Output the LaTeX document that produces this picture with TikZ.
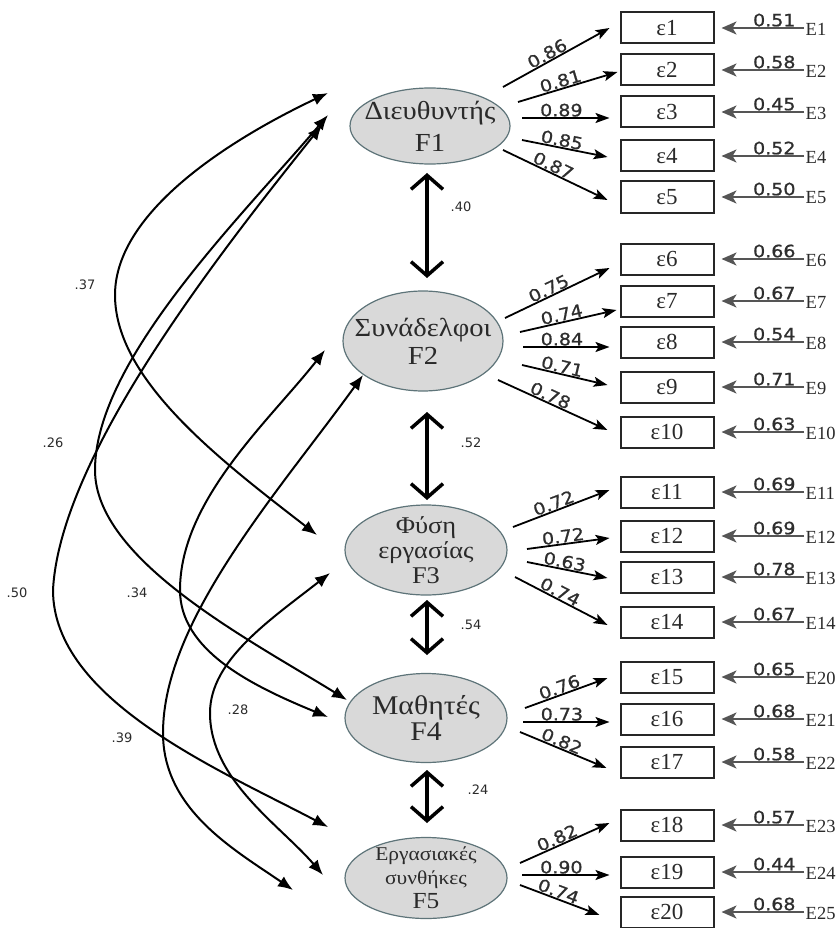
\documentclass[tikz,border=0pt]{standalone}
\usepackage{fontspec}
\setmainfont{Liberation Serif}
\newfontfamily\numfont{DejaVu Sans}
\newfontfamily\numsemi[FakeStretch=1.12,FakeBold=1]{DejaVu Sans}
\newfontfamily\grkwide[FakeStretch=1.1]{Liberation Serif}
\usetikzlibrary{arrows.meta,calc,shapes.geometric}
\definecolor{ellfill}{HTML}{D9D9D9}
\definecolor{elledge}{HTML}{5E7479}
\definecolor{errgrey}{HTML}{555555}
\definecolor{txtdark}{HTML}{2A2A2A}
\definecolor{numdark}{HTML}{2E2E2E}

\begin{document}
\begin{tikzpicture}[x=1pt,y=-1pt,
  latent/.style 2 args={ellipse, draw=elledge, fill=ellfill, line width=1.2pt,
    minimum width=#1, minimum height=#2, inner sep=0pt},
  lattext/.style={align=center, text=txtdark, inner sep=0pt},
  box/.style={draw=black!85, line width=2pt, minimum width=93pt, minimum height=31pt,
    inner sep=0pt, text=txtdark, font=\fontsize{23}{23}\selectfont},
  elabel/.style={anchor=west, inner sep=1.5pt, text=txtdark, font=\fontsize{18.5}{18.5}\selectfont},
  load/.style={line width=1.8pt, -{Stealth[length=14pt,width=10pt,inset=3pt]}},
  err/.style={draw=errgrey, line width=2pt, -{Stealth[length=15pt,width=13pt,inset=4pt]}},
  ld/.style={sloped, above, pos=0.45, inner sep=0.5pt, text=numdark, font=\numsemi\fontsize{17}{17}\selectfont},
  ev/.style={above, pos=0.36, inner sep=0.5pt, text=numdark, font=\numsemi\fontsize{17}{17}\selectfont},
  cov/.style={line width=2pt, {Latex[length=15pt,width=12pt]}-{Latex[length=15pt,width=12pt]}},
  dbl/.style={line width=3.5pt, {Straight Barb[length=14pt,width=32pt]}-{Straight Barb[length=14pt,width=32pt]}},
  corr/.style={inner sep=0pt, text=txtdark, font=\numfont\fontsize{13}{13}\selectfont}]

\useasboundingbox (0,0) rectangle (837,928);

% latent factors
\node[latent={160pt}{76pt}, label={[lattext, font=\grkwide\fontsize{26}{32}\selectfont]center:{Διευθυντής\\F1}}] (F1) at (430,126) {};
\node[latent={160pt}{100pt}, label={[lattext, font=\grkwide\fontsize{26}{28}\selectfont]center:{Συνάδελφοι\\F2}}] (F2) at (423,341) {};
\node[latent={162pt}{90pt}, label={[lattext, font=\grkwide\fontsize{24}{25}\selectfont]center:{Φύση\\εργασίας\\F3}}] (F3) at (426,550) {};
\node[latent={162pt}{89pt}, label={[lattext, font=\grkwide\fontsize{27}{26}\selectfont]center:{Μαθητές\\F4}}] (F4) at (426,718) {};
\node[latent={162pt}{81pt}, label={[lattext, font=\grkwide\fontsize{19.5}{24}\selectfont]center:{Εργασιακές\\συνθήκες\\{\fontsize{23}{23}\selectfont F5}}}] (F5) at (426,878) {};

% observed items with their error terms
\foreach \i/\yy/\v/\en in {1/28/0.51/E1, 2/70/0.58/E2, 3/112/0.45/E3, 4/156/0.52/E4, 5/197/0.50/E5,
  6/259/0.66/E6, 7/301/0.67/E7, 8/342/0.54/E8, 9/387/0.71/E9, 10/432/0.63/E10,
  11/492/0.69/E11, 12/536/0.69/E12, 13/577/0.78/E13, 14/622/0.67/E14,
  15/677/0.65/E20, 16/719/0.68/E21, 17/762/0.58/E22,
  18/825/0.57/E23, 19/872/0.44/E24, 20/912/0.68/E25} {
  \node[box] (e\i) at (667,\yy) {ε\i};
  \node[elabel] (E\i) at (804,\yy+1) {\en};
  \draw[err] (E\i.west |- 0,\yy) -- node[ev]{\v} ($(e\i.east)+(7,0)$);
}

% factor loadings
\foreach \i/\f/\sx/\sy/\ex/\ey/\v in {
  1/F1/73/-39/-10/0/0.86, 2/F1/88/-24/-2/2/0.81, 3/F1/92/-8/-10/6/0.89,
  4/F1/92/14/-12/1/0.85, 5/F1/73/24/-12/3/0.87,
  6/F2/82/-23/-10/9/0.75, 7/F2/97/-9/-3/9/0.74, 8/F2/100/6/-10/5/0.84,
  9/F2/99/24/-12/-2/0.71, 10/F2/75/39/-12/-2/0.78,
  11/F3/87/-23/-10/-2/0.72, 12/F3/101/-1/-10/2/0.72, 13/F3/101/12/-12/1/0.63,
  14/F3/89/27/-12/3/0.74,
  15/F4/99/-10/-12/1/0.76, 16/F4/97/4/-10/3/0.73, 17/F4/94/14/-13/6/0.82,
  18/F5/94/-15/-10/-2/0.82, 19/F5/96/-3/-10/3/0.90, 20/F5/94/7/-20/3/0.74} {
  \draw[load] ($(\f)+(\sx,\sy)$) -- node[ld]{\v} ($(e\i.west)+(\ex,\ey)$);
}

% correlations between neighbouring factors
\draw[dbl] ($(F1)+(-3,47)$) -- ($(F2)+(4,-63)$);
\draw[dbl] ($(F2)+(4,71)$) -- ($(F3)+(1,-50)$);
\draw[dbl] ($(F3)+(1,50)$) -- ($(F4)+(1,-63)$);
\draw[dbl] ($(F4)+(1,52)$) -- ($(F5)+(1,-55)$);
\node[corr] (c12) at (461,207) {.40};
\node[corr] (c23) at (471,443) {.52};
\node[corr] (c34) at (471,625) {.54};
\node[corr] (c45) at (478,790) {.24};

% correlations between distant factors
\draw[cov] ($(F1)+(-102,-33)$) .. controls (235,137) and (115,210) .. (115,295)
  .. controls (115,380) and (220,460) .. ($(F3)+(-109,-15)$);
\draw[cov] ($(F1)+(-102,-11)$) .. controls (243,215) and (95,360) .. (95,470)
  .. controls (95,560) and (250,640) .. ($(F4)+(-79,-18)$);
\draw[cov] ($(F1)+(-108,-1)$) .. controls (222,250) and (60,455) .. (53,590)
  .. controls (53,700) and (220,770) .. ($(F5)+(-98,-51)$);
\draw[cov] ($(F2)+(-98,9)$) .. controls (270,420) and (180,500) .. (180,590)
  .. controls (180,650) and (250,685) .. ($(F4)+(-98,-1)$);
\draw[cov] ($(F2)+(-60,34)$) .. controls (280,490) and (163,620) .. (163,733)
  .. controls (163,810) and (235,850) .. ($(F5)+(-133,12)$);
\draw[cov] ($(F3)+(-96,23)$) .. controls (270,620) and (210,660) .. (210,713)
  .. controls (210,780) and (280,825) .. ($(F5)+(-103,-3)$);
\node[corr] (c13) at (85,285) {.37};
\node[corr] (c14) at (53,443) {.26};
\node[corr] (c15) at (17,593) {.50};
\node[corr] (c24) at (137,593) {.34};
\node[corr] (c25) at (122,738) {.39};
\node[corr] (c35) at (238,710) {.28};

\end{tikzpicture}
\end{document}
